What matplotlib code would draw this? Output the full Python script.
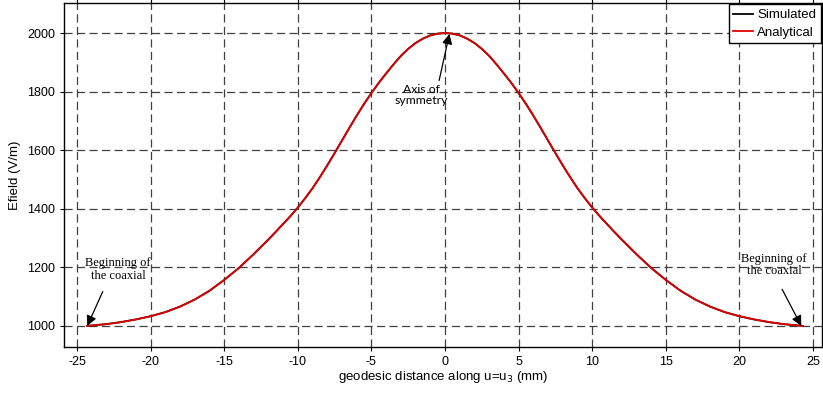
import numpy as np
import matplotlib.pyplot as plt

# geodesic distance (mm) and field (V/m)
dist = [-24.3, -23, -22, -21, -20, -19, -18, -17, -16, -15, -14, -13, -12,
        -11.5, -11, -10.5, -10, -9.5, -9, -8.5, -8, -7.5, -7, -6.5, -6,
        -5.5, -5, -4.5, -4, -3.5, -3, -2.5, -2, -1.5, -1, -0.5, 0,
        0.5, 1, 1.5, 2, 2.5, 3, 3.5, 4, 4.5, 5, 5.5, 6, 6.5, 7, 7.5, 8,
        8.5, 9, 9.5, 10, 10.5, 11, 11.5, 12, 13, 14, 15, 16, 17, 18, 19,
        20, 21, 22, 23, 24.3]
efield_sim = [1000, 1006, 1013, 1022, 1033, 1047, 1066, 1090, 1120, 1157,
              1198, 1245, 1295, 1321, 1348, 1375, 1404, 1436, 1470, 1508,
              1548, 1590, 1633, 1676, 1718, 1758, 1795, 1830, 1862, 1893,
              1922, 1946, 1966, 1981, 1992, 1998, 2000,
              1998, 1992, 1981, 1966, 1946, 1922, 1893, 1862, 1830, 1795,
              1758, 1718, 1676, 1633, 1590, 1548, 1508, 1470, 1436, 1404,
              1375, 1348, 1321, 1295, 1245, 1198, 1157, 1120, 1090, 1066,
              1047, 1033, 1022, 1013, 1006, 1000]
efield_ana = list(efield_sim)

xticks = [-25, -20, -15, -10, -5, 0, 5, 10, 15, 20, 25]
yticks = [1000, 1200, 1400, 1600, 1800, 2000]

plt.rcParams['font.family'] = ['Liberation Sans', 'DejaVu Sans']
plt.rcParams['axes.unicode_minus'] = False

fig = plt.figure(figsize=(8.23, 3.97), dpi=100)
ax = fig.add_axes([0.0778, 0.126, 0.921, 0.866])

ax.plot(dist, efield_sim, color='black', lw=1.3, label='Simulated')
ax.plot(dist, efield_ana, color='#e00000', lw=1.3, label='Analytical')

ax.set_xlim(-25.88, 25.61)
ax.set_ylim(928, 2102)
ax.set_xticks(xticks)
ax.set_yticks(yticks)
ax.grid(True, color='0.25', linestyle=(0, (6.5, 3.5)), lw=0.9)
ax.tick_params(direction='out', length=3, labelsize=9, top=True, right=True,
               labeltop=False, labelright=False)
for s in ax.spines.values():
    s.set_linewidth(1.0)

ax.set_xlabel('geodesic distance along u=u$_3$ (mm)', fontsize=9.5, labelpad=1)
ax.set_ylabel('Efield (V/m)', fontsize=9.5, labelpad=4)

leg = ax.legend(loc='upper right', fontsize=9.5, fancybox=False, framealpha=1,
                edgecolor='black', borderpad=0.35, handlelength=1.5,
                handletextpad=0.3, borderaxespad=0.1, labelspacing=0.4)
leg.get_frame().set_linewidth(1.0)

arrow = dict(arrowstyle='-|>', color='black', lw=0.9, mutation_scale=15,
             shrinkA=0, shrinkB=0)

ax.text(-1.6, 1790, 'Axis of\nsymmetry', ha='center', va='center',
        fontsize=8.8, family='Lato', linespacing=1.0)
ax.annotate('', xy=(0.3, 1997), xytext=(-0.4, 1838), arrowprops=arrow)

ax.text(-22.2, 1192, 'Beginning of\nthe coaxial', ha='center', va='center',
        fontsize=9, family='Liberation Serif', linespacing=1.05)
ax.annotate('', xy=(-24.3, 1000), xytext=(-23.25, 1117), arrowprops=arrow)

ax.text(22.35, 1207, 'Beginning of\nthe coaxial', ha='center', va='center',
        fontsize=9, family='Liberation Serif', linespacing=1.05)
ax.annotate('', xy=(24.2, 1000), xytext=(22.9, 1125), arrowprops=arrow)

fig.savefig('out.png', dpi=100)
